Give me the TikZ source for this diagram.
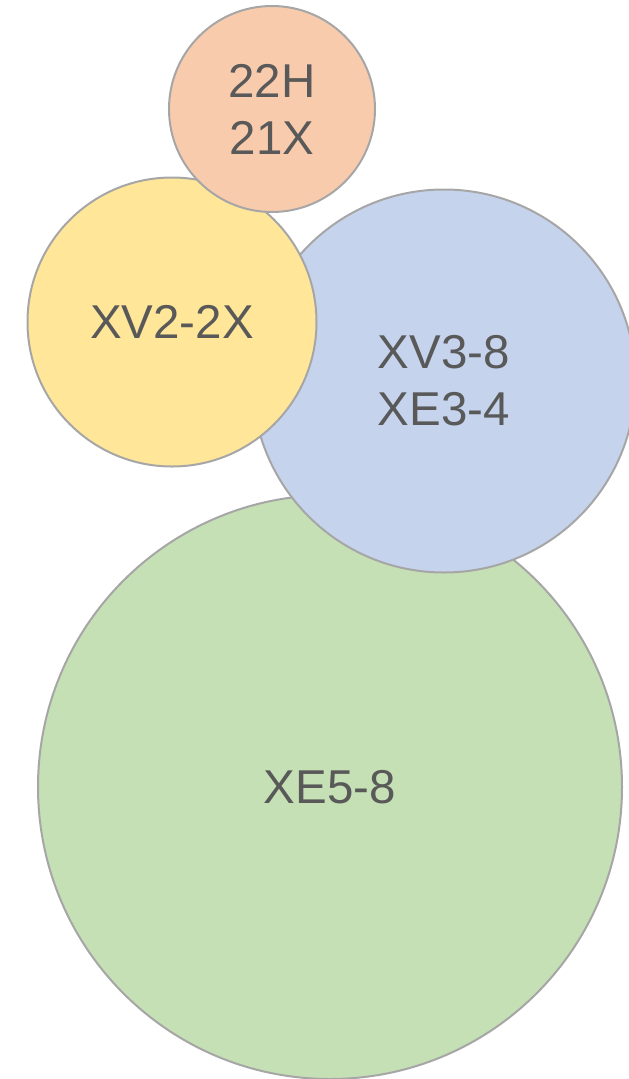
\documentclass[tikz,border=0pt]{standalone}
\usepackage{fontspec}
\setmainfont{Liberation Sans}
\definecolor{edgegrey}{HTML}{A6A6A6}
\definecolor{txtgrey}{HTML}{595959}
\definecolor{corange}{HTML}{F8CBAD}
\definecolor{cyellow}{HTML}{FFE699}
\definecolor{cblue}{HTML}{C5D3EC}
\definecolor{cgreen}{HTML}{C5E0B4}
\begin{document}
\begin{tikzpicture}[x=1pt,y=-1pt,
  bubble/.style={circle, draw=edgegrey, line width=2pt, inner sep=0pt,
    text=txtgrey, align=center,
    font=\fontsize{47.5}{57}\selectfont}]
\useasboundingbox (0,0) rectangle (629,1079);
\clip (0,0) rectangle (629,1079);
\node[bubble, fill=cgreen, minimum size=584pt] (green) at (330,787) {XE5-8};
\node[bubble, fill=cblue, minimum size=383pt] (blue) at (444,381) {XV3-8\\XE3-4};
\node[bubble, fill=cyellow, minimum size=289pt] (yellow) at (172,322) {XV2-2X};
\node[bubble, fill=corange, minimum size=206pt] (orange) at (272,109) {22H\\21X};
\end{tikzpicture}
\end{document}
